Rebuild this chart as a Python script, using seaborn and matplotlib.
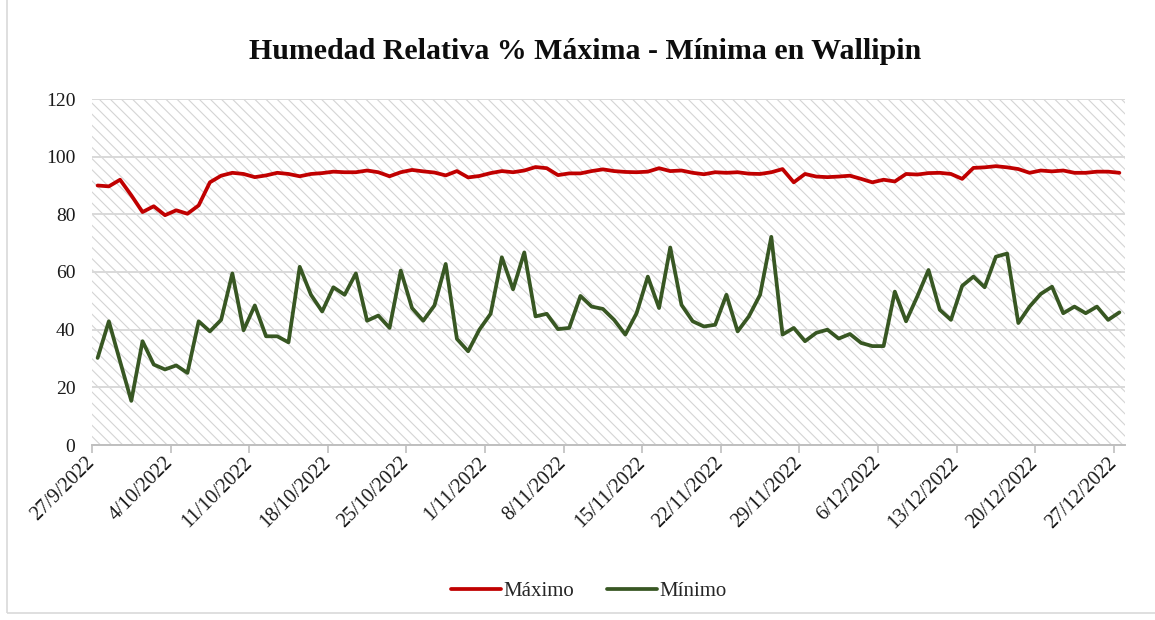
import numpy as np
import pandas as pd
import matplotlib
matplotlib.use("Agg")
import matplotlib.pyplot as plt
from matplotlib.patches import Rectangle
import seaborn as sns

# ---------------- data ----------------
start_date = "2022-09-27"
n_days = 92
maximo = [90, 89.7, 92, 86.6, 80.8, 82.8, 79.7, 81.4, 80.2, 83.1,
          91.1, 93.4, 94.4, 94, 92.9, 93.5, 94.4, 94, 93.2, 94,
          94.3, 94.8, 94.6, 94.6, 95.2, 94.6, 93.2, 94.6, 95.4, 94.9,
          94.5, 93.5, 95, 92.8, 93.3, 94.3, 95, 94.6, 95.2, 96.4,
          96, 93.6, 94.2, 94.2, 95, 95.6, 95, 94.7, 94.6, 94.8,
          96, 95, 95.2, 94.4, 93.9, 94.6, 94.4, 94.6, 94.1, 94,
          94.6, 95.7, 91.1, 94, 93.1, 92.9, 93.1, 93.4, 92.3, 91.1,
          92, 91.4, 94, 93.8, 94.3, 94.4, 94, 92.3, 96.1, 96.3,
          96.7, 96.3, 95.7, 94.4, 95.2, 94.9, 95.2, 94.4, 94.4, 94.8,
          94.8, 94.4]
minimo = [30.2, 42.9, 29, 15.3, 36, 27.9, 26.2, 27.6, 25, 42.9,
          39.4, 43.4, 59.5, 39.8, 48.4, 37.7, 37.7, 35.6, 61.8, 52.1,
          46.3, 54.7, 52.1, 59.5, 43.1, 44.9, 40.6, 60.5, 47.5, 43.1,
          48.4, 62.8, 36.8, 32.5, 40, 45.5, 65.1, 54, 66.8, 44.6,
          45.5, 40.2, 40.6, 51.7, 48, 47.2, 43.4, 38.3, 45.7, 58.4,
          47.5, 68.5, 48.6, 42.9, 41.1, 41.7, 52.1, 39.4, 44.6, 52.1,
          72.2, 38.3, 40.6, 36, 38.9, 40, 36.9, 38.5, 35.4, 34.3,
          34.3, 53.2, 42.9, 51.5, 60.7, 46.9, 43.4, 55.2, 58.4, 54.7,
          65.3, 66.4, 42.3, 48, 52.4, 54.9, 45.7, 48, 45.7, 48,
          43.4, 46]
series_names = ["Máximo", "Mínimo"]
colors = ["#C00000", "#385723"]
title = "Humedad Relativa % Máxima - Mínima en Wallipin"
y_ticks = [0, 20, 40, 60, 80, 100, 120]

fechas = pd.date_range(start_date, periods=n_days, freq="D")
df = pd.DataFrame({"fecha": fechas + pd.Timedelta(hours=12),
                   series_names[0]: maximo, series_names[1]: minimo})
long = df.melt(id_vars="fecha", var_name="serie", value_name="valor")

# ---------------- style ----------------
sns.set_theme(style="white")
plt.rcParams["font.family"] = ["Liberation Serif", "DejaVu Serif"]
plt.rcParams["hatch.linewidth"] = 0.8

fig = plt.figure(figsize=(11.55, 6.2), dpi=100)
ax = fig.add_axes([92 / 1155, 1 - 445 / 620, (1125 - 92) / 1155, (445 - 99) / 620])
ax.set_facecolor("white")

# hatched plot area
ax.add_patch(Rectangle((0, 0), 1, 1, transform=ax.transAxes, fill=False,
                       hatch="\\" * 3, edgecolor="#d4d4d4", lw=0, zorder=0))

sns.lineplot(data=long, x="fecha", y="valor", hue="serie",
             palette=dict(zip(series_names, colors)), linewidth=2.7,
             legend=False, ax=ax, zorder=3)

ax.set_ylim(0, 120)
ax.set_yticks(y_ticks)
ax.set_xlim(fechas[0], fechas[-1] + pd.Timedelta(days=1))
ax.set_axisbelow(True)
ax.yaxis.grid(True, color="#d9d9d9", lw=1.4)
ax.xaxis.grid(False)

xt = pd.date_range(fechas[0], fechas[-1], freq="7D")
ax.set_xticks(xt)
ax.set_xticklabels([f"{d.day}/{d.month}/{d.year}" for d in xt],
                   rotation=45, ha="right", va="center", rotation_mode="anchor",
                   fontsize=14.5, color="#1a1a1a")
ax.tick_params(axis="x", which="major", bottom=True, length=6, width=1.2,
               color="#bfbfbf", pad=5, direction="out")
ax.tick_params(axis="y", left=False, labelsize=14, labelcolor="#1a1a1a", pad=6)
ax.set_xlabel("")
ax.set_ylabel("")
for s in ["left", "right", "top"]:
    ax.spines[s].set_visible(False)
ax.spines["bottom"].set_color("#bfbfbf")
ax.spines["bottom"].set_linewidth(1.4)

fig.text(0.507, 0.917, title, ha="center", va="center", fontsize=21.5,
         fontweight="bold", color="#0d0d0d")

handles = ax.get_lines()[:2]
fig.legend(handles, series_names, loc="center", bbox_to_anchor=(0.51, 0.046),
           ncol=2, frameon=False, fontsize=15, handlelength=2.4,
           handletextpad=0.1, columnspacing=1.6)

# outer chart border
fig.add_artist(Rectangle((7 / 1155, 1 - 613 / 620), 1.2, 1.2,
                         transform=fig.transFigure, fill=False,
                         edgecolor="#d9d9d9", lw=1.2))

fig.savefig("out.png", dpi=100)
